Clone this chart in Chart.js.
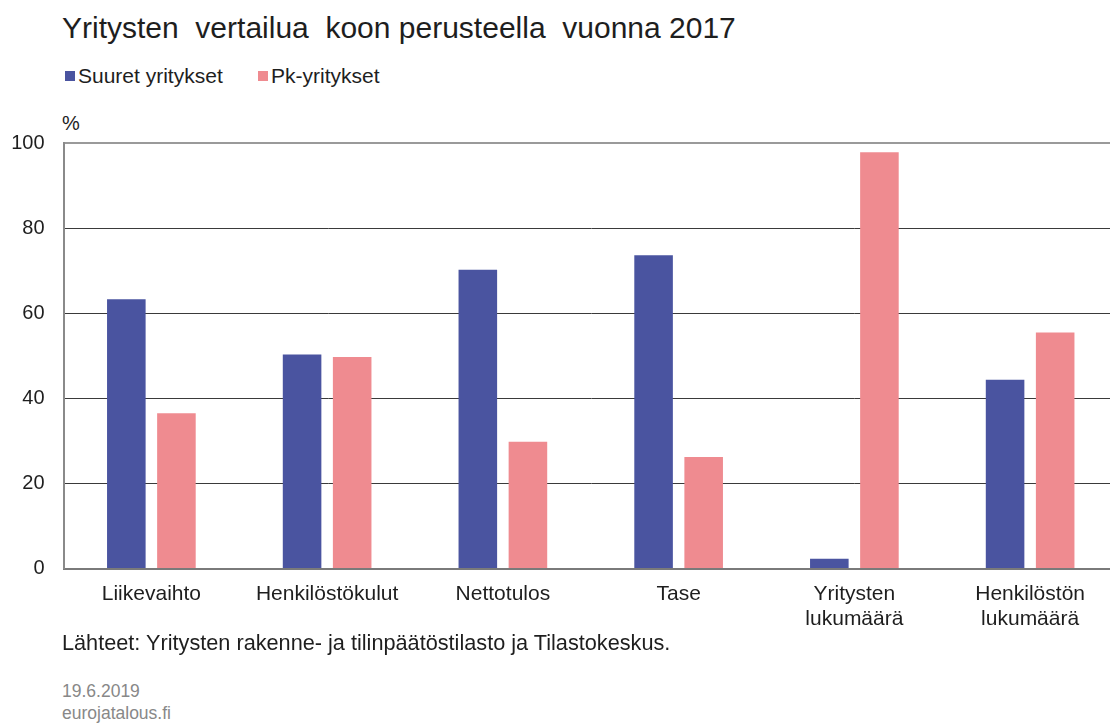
<!DOCTYPE html>
<html>
<head>
<meta charset="utf-8">
<script src="https://cdn.jsdelivr.net/npm/chart.js@4"></script>
<style>
  html, body { margin: 0; padding: 0; background: #fff; overflow: hidden; }
  body { width: 1110px; height: 724px; position: relative; font-family: "Liberation Sans", Arial, sans-serif; color: #1e1e1e; }
  .txt { position: absolute; white-space: pre; line-height: 1; }
  #title { left: 62px; top: 13px; font-size: 30px; }
  .leg { position: absolute; top: 65px; font-size: 21px; line-height: 21px; }
  .leg span { display: inline-block; width: 10px; height: 10px; margin-right: 3px; vertical-align: 2px; }
  #unit { left: 62px; top: 113px; font-size: 20px; }
  #source { left: 62px; top: 632px; font-size: 21.7px; }
  #date { left: 62px; top: 683px; font-size: 17.5px; color: #888; }
  #site { left: 62px; top: 705px; font-size: 17.5px; color: #888; }
  #wrap { position: absolute; left: 0; top: 100px; width: 1120px; height: 545px; }
</style>
</head>
<body>
<div id="title" class="txt">Yritysten  vertailua  koon perusteella  vuonna 2017</div>
<div class="leg" style="left:65px"><span style="background:#4a54a0"></span>Suuret yritykset</div>
<div class="leg" style="left:258px"><span style="background:#ef8b90"></span>Pk-yritykset</div>
<div id="unit" class="txt">%</div>
<div id="wrap"><canvas id="chart"></canvas></div>
<div id="source" class="txt">Lähteet: Yritysten rakenne- ja tilinpäätöstilasto ja Tilastokeskus.</div>
<div id="date" class="txt">19.6.2019</div>
<div id="site" class="txt">eurojatalous.fi</div>
<script>
// data, percent
let categories = [
    "Liikevaihto",
    "Henkilöstökulut",
    "Nettotulos",
    "Tase",
    ["Yritysten", "lukumäärä"],
    ["Henkilöstön", "lukumäärä"]
];
let suuret = [63.3, 50.3, 70.2, 73.6, 2.3, 44.4];
let pk = [36.5, 49.7, 29.8, 26.2, 97.8, 55.5];
let yTicks = [0, 20, 40, 60, 80, 100];

let font = { family: "'Liberation Sans', Arial, sans-serif", size: 21 };

let ctx = document.getElementById("chart").getContext("2d");
new Chart(ctx, {
    type: "bar",
    data: {
        labels: categories,
        datasets: [
            {
                label: "Suuret yritykset",
                data: suuret,
                backgroundColor: "#4a54a0"
            },
            {
                label: "Pk-yritykset",
                data: pk,
                backgroundColor: "#ef8b90"
            }
        ]
    },
    options: {
        responsive: true,
        maintainAspectRatio: false,
        animation: false,
        categoryPercentage: 0.57,
        barPercentage: 0.77,
        layout: {
            padding: { top: 43, right: 2, left: 0, bottom: 0 }
        },
        plugins: {
            legend: { display: false },
            tooltip: { enabled: false }
        },
        scales: {
            x: {
                grid: { display: false, drawTicks: false },
                border: { display: true, color: "#7a7a7a", width: 2 },
                ticks: {
                    color: "#1e1e1e",
                    font: font,
                    padding: 13,
                    maxRotation: 0,
                    autoSkip: false
                }
            },
            y: {
                min: 0,
                max: 100,
                afterFit: (scale) => { scale.width = 63.5; },
                afterBuildTicks: (scale) => {
                    scale.ticks = yTicks.map((v) => ({ value: v }));
                },
                grid: {
                    drawTicks: false,
                    color: (c) => {
                        if (c.tick.value == 100) return "#9a9a9a";
                        if (c.tick.value == 0) return "#7a7a7a";
                        return "#3a3a3a";
                    },
                    lineWidth: (c) => (c.tick.value == 100 ? 2 : 1)
                },
                border: { display: true, color: "#8a8a8a", width: 2 },
                ticks: {
                    color: "#1e1e1e",
                    font: { family: font.family, size: 20 },
                    padding: 19
                }
            }
        }
    }
});
</script>
</body>
</html>
